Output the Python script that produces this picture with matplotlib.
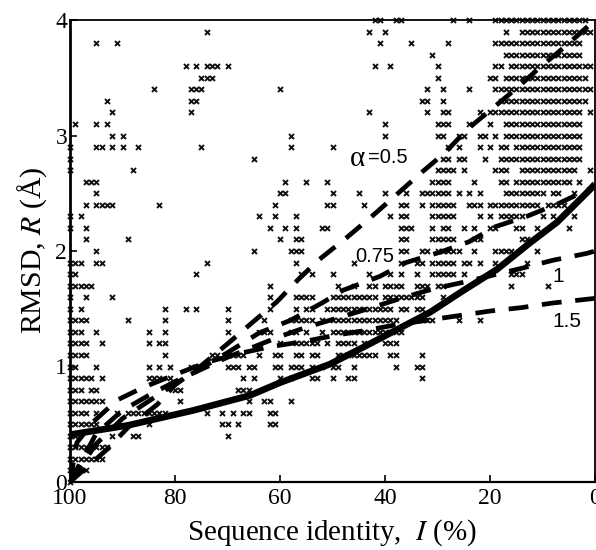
import matplotlib
matplotlib.use("Agg")
import matplotlib.pyplot as plt

# Scatter: sequence identity values (%) for each RMSD row (Angstrom)
r40 = [42,41,38,37,27,24,19,18,17,16,15,14,13,12,11,10,9,8,7,6,5,4,3,2]
r39 = [74,43,40,17,14,13,12,11,10,9,8,7,6,5,4,3,2,1]
r38 = [95,91,41,35,28,19,18,17,16,15,14,13,12,11,10,9,8,7,6,5,4,3]
r37 = [31,17,16,15,14,13,12,11,10,9,8,7,6,5,4,3]
r36 = [78,76,74,73,72,70,42,39,30,19,18,16,15,14,13,12,11,10,9,8,7,6,5,4,3,2,1]
r35 = [75,74,73,30,20,19,17,16,15,14,13,12,11,10,9,8,7,6,5,4,3,2]
r34 = [84,77,76,75,60,32,29,24,19,18,17,16,15,14,13,12,11,10,9,8,7,6,5,4,3,2,1]
r33 = [93,77,76,33,32,29,18,17,16,15,14,13,12,11,10,9,8,7,6,5,4,3,2]
r32 = [92,77,43,32,29,28,22,20,19,18,17,16,15,14,13,12,11,10,9,8,7,6,5,4,3,1]
r31 = [99,95,93,40,30,29,28,24,20,17,16,15,14,13,12,11,10,9,8,7,6,5,4,3]
r30 = [92,90,58,40,30,29,26,25,22,21,19,17,16,15,14,13,12,11,10,9,8,7,6,5,4,3]
r29 = [100,95,94,92,90,87,75,58,50,28,26,22,20,18,17,15,14,13,12,11,10,9,8,7,6,5,4,3]
r28 = [100,65,29,28,26,25,21,18,17,16,15,14,13,12,11,10,9,8,7,6,5,4,3]
r27 = [100,88,30,29,28,27,25,19,18,17,14,13,12,11,10,9,8,7,6,5,4,1]
r26 = [97,96,95,59,55,51,31,30,29,28,23,18,17,15,14,13,12,11,10,9,8,7,6,5,3]
r25 = [95,60,59,50,45,40,36,33,32,31,30,29,28,26,24,22,17,16,15,14,13,12,11,10,8,7,4]
r24 = [97,95,94,93,92,83,61,51,50,44,37,36,33,31,30,29,28,27,24,23,22,20,19,18,17,16,15,14,13,12,11,9,8,7,6]
r23 = [100,98,64,61,57,39,37,36,31,30,29,28,27,22,20,18,17,16,15,14,10,8,4]
r22 = [100,97,62,59,57,52,51,37,36,35,31,29,28,25,23,20,19,15,14,11,5]
r21 = [97,89,60,57,56,37,36,31,30,29,28,27,23,22,14,13]
r20 = [95,65,58,57,56,37,36,33,32,30,29,28,27,26,23,19,18,17,16,11]
r19 = [100,99,98,95,94,74,57,46,37,34,33,31,30,29,28,27,25,24,22,19,13]
r18 = [100,99,76,56,54,50,43,39,37,34,31,30,29,28,27,25,16,15,14]
r17 = [100,99,98,97,96,62,49,46,43,42,40,39,38,37,34,33,32,30,29,16,9]
r16 = [100,97,92,62,57,56,55,54,50,49,48,47,46,45,44,43,42,40,39,38,37,36,35,34,33,29]
r15 = [100,98,82,78,76,70,62,57,55,54,51,50,49,48,47,46,45,44,43,42,41,40,39,37,36,34,33]
r14 = [100,99,98,97,89,82,70,63,58,57,56,55,54,52,50,49,48,47,46,45,44,43,42,41,40,39,38,34,33,32,31,26,22]
r13 = [100,99,98,95,85,82,70,64,63,62,58,57,55,52,50,49,48,47,46,45,44,43,42,41,40,39,38,37]
r12 = [100,99,98,97,94,85,83,82,60,57,56,55,54,53,51,49,48,47,46,44,40,39,38]
r11 = [100,99,98,97,82,73,72,69,68,67,64,61,60,57,56,54,53,49,48,47,46,45,44,43,42,39,38,33]
r10 = [100,99,95,85,83,81,77,76,70,69,68,66,65,61,60,58,57,56,54,52,50,49,46,38,34,33]
r09 = [100,99,98,97,96,94,85,84,83,81,67,65,60,58,54,53,50,47,46,33]
r08 = [100,99,98,96,95,80,79,68,67,66]
r07 = [100,99,98,97,96,95,94,79,66,63,62,58]
r06 = [100,99,98,97,95,91,89,88,87,86,85,84,83,82,74,71,69,67,66,62,61]
r05 = [100,99,98,97,96,95,85,71,70,68,62,61]
r04 = [100,99,92,88,87,70]
r03 = [100,99,98,97,96,95,94,93]
r02 = [100,99,98,97,96,95,94]
r01 = [100,99,98,97]
r00 = [100]

rmsd_rows = [4.0,3.9,3.8,3.7,3.6,3.5,3.4,3.3,3.2,3.1,3.0,2.9,2.8,2.7,2.6,2.5,2.4,2.3,2.2,2.1,
             2.0,1.9,1.8,1.7,1.6,1.5,1.4,1.3,1.2,1.1,1.0,0.9,0.8,0.7,0.6,0.5,0.4,0.3,0.2,0.1,0.0]
identity_rows = [r40,r39,r38,r37,r36,r35,r34,r33,r32,r31,r30,r29,r28,r27,r26,r25,r24,r23,r22,r21,
                 r20,r19,r18,r17,r16,r15,r14,r13,r12,r11,r10,r09,r08,r07,r06,r05,r04,r03,r02,r01,r00]

# Curves
solid_I = [100,89,76.5,65.7,60,50.5,44,37.7,31.4,25,18.7,12.4,7.2,1,0]
solid_R = [0.41,0.49,0.62,0.75,0.86,1.02,1.17,1.32,1.47,1.66,1.84,2.07,2.25,2.53,2.58]
a05_I = [100,97.5,93,89,83.4,80,75.2,69.9,65.3,60.6,56.6,52.7,47.2,42.5,38,33.3,28.6,24.4,19.4,14.9,10.5,5.7,1,0]
a05_R = [0,0.10,0.28,0.47,0.67,0.84,1.0,1.2,1.38,1.56,1.75,1.92,2.12,2.30,2.48,2.67,2.85,3.05,3.24,3.41,3.59,3.77,3.96,4.0]
a075_I = [100,95,90,85,80,70,64,58,52,48,41,36,29.5,24,19,13,7,0]
a075_R = [0,0.33,0.55,0.70,0.85,1.12,1.29,1.40,1.55,1.66,1.78,1.90,1.99,2.08,2.21,2.30,2.41,2.56]
a1_I = [100,95,90,85,80,70,60,55,49,42.5,37,31,25,14,8,1.5,0]
a1_R = [0,0.42,0.62,0.75,0.87,1.08,1.26,1.34,1.42,1.51,1.59,1.67,1.73,1.85,1.92,1.98,2.0]
a15_I = [100,98.7,95.6,91,86,80,73.7,67,62,55,49.5,44,38,26,20,14,8,0]
a15_R = [0,0.34,0.52,0.71,0.82,0.93,1.04,1.12,1.17,1.22,1.27,1.31,1.36,1.44,1.48,1.51,1.55,1.59]
dashed_curves = [(a05_I,a05_R),(a075_I,a075_R),(a1_I,a1_R),(a15_I,a15_R)]

x_ticks = [100,80,60,40,20,0]
y_ticks = [0,1,2,3,4]

W,H = 596,550
fig = plt.figure(figsize=(W/100,H/100),dpi=100)
ax = fig.add_axes([70/W,1-482/H,525/W,462/H])
ax.set_xlim(100,0); ax.set_ylim(0,4)

for y,xs in zip(rmsd_rows,identity_rows):
    ax.plot(xs,[y]*len(xs),ls='none',marker='x',ms=3.6,mew=1.4,color='#111111',clip_on=False,zorder=2)

for xs,ys in dashed_curves:
    ax.plot(xs,ys,color='black',lw=3.4,dashes=(4.2,2.9),dash_capstyle='butt',zorder=3)
ax.plot(solid_I,solid_R,color='black',lw=4.8,solid_capstyle='butt',zorder=4)

serif='Liberation Serif'; sans='Liberation Sans'
ax.set_xticks(x_ticks); ax.set_yticks(y_ticks)
ax.tick_params(direction='in',length=5,width=1.2,pad=3)
for t in ax.get_xticklabels()+ax.get_yticklabels():
    t.set_fontfamily(serif); t.set_fontsize(17)
ax.tick_params(axis='x',pad=4)
ax.tick_params(axis='y',pad=2)
for s in ax.spines.values(): s.set_linewidth(1.3)
ax.spines['left'].set_linewidth(2)
ax.spines['bottom'].set_linewidth(1.6)

fig.text(332/W,1-533/H,'Sequence identity,  $\\mathit{I}$ (%)',ha='center',va='center',
         family=serif,fontsize=20.9,math_fontfamily='stix')
fig.text(32/W,1-250/H,'RMSD, $\\mathit{R}$ (Å)',ha='center',va='center',rotation=90,
         family=serif,fontsize=21.5,math_fontfamily='stix')

ax.text(45.3,2.80,'α',family=serif,fontsize=21,ha='center',va='center',zorder=5)
ax.text(39.4,2.81,'=0.5',family=sans,fontsize=14.5,ha='center',va='center',zorder=5)
ax.text(41.9,1.95,'0.75',family=sans,fontsize=14.5,ha='center',va='center',zorder=5)
ax.text(7,1.78,'1',family=sans,fontsize=15,ha='center',va='center',zorder=5)
ax.text(5.3,1.39,'1.5',family=sans,fontsize=15,ha='center',va='center',zorder=5)

fig.savefig('out.png',dpi=100)
